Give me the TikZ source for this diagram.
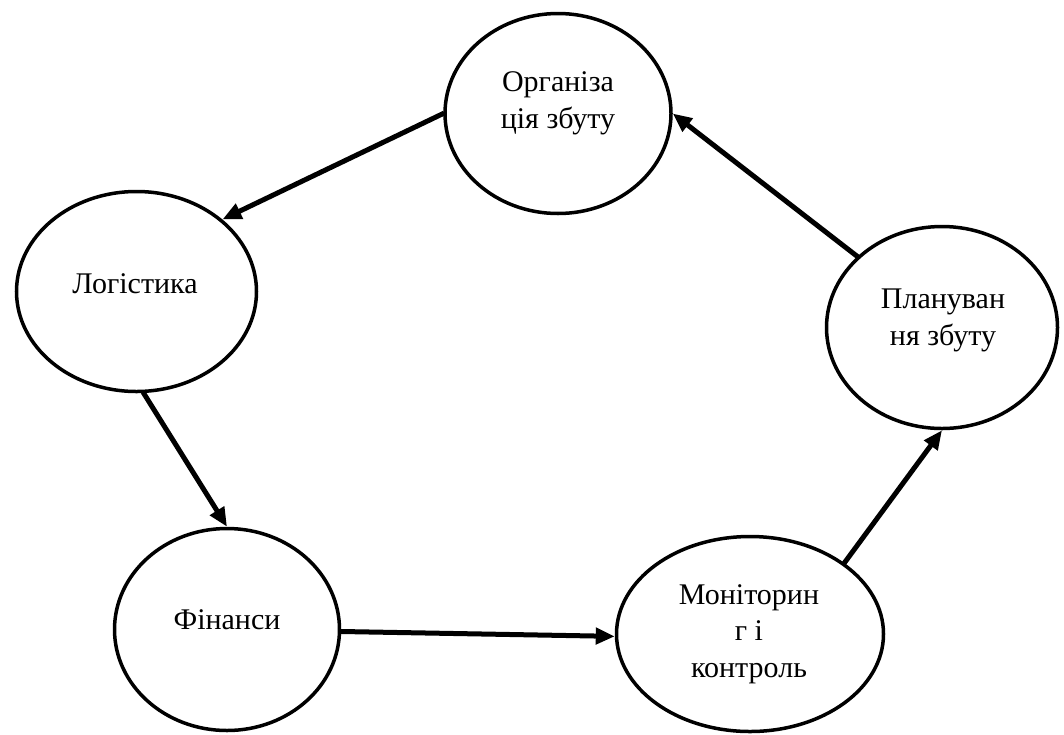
\documentclass[tikz,border=0pt]{standalone}
\usepackage{fontspec}
\setmainfont{Liberation Serif}
\usetikzlibrary{shapes.geometric,arrows.meta}

\tikzset{
  stage/.style={draw=black, line width=3.5pt, ellipse, inner sep=0pt, fill=white},
  caption/.style={font=\fontsize{30}{36.5}\selectfont, align=center, anchor=base, inner sep=0pt},
  flow/.style={line width=5pt, -{Triangle[length=19pt,width=16pt]}, shorten <=-1pt}
}

\begin{document}
\begin{tikzpicture}[x=1pt,y=-1pt]
  \useasboundingbox[fill=white] (0,0) rectangle (1064,734);

  % the five stages of the sales cycle
  \node[stage, minimum width=226pt, minimum height=200pt] (org) at (558,113.5) {};
  \node[stage, minimum width=240pt, minimum height=200pt] (log) at (136.5,291.5) {};
  \node[stage, minimum width=225pt, minimum height=202pt] (fin) at (227,629.5) {};
  \node[stage, minimum width=267pt, minimum height=195pt] (mon) at (750,634) {};
  \node[stage, minimum width=231pt, minimum height=202pt] (plan) at (942,327.5) {};

  % stage captions (the base anchor sits on the last line)
  \node[caption] (orgT) at (558,128) {Організа\\ція збуту};
  \node[caption] (logT) at (135,293) {Логістика};
  \node[caption] (finT) at (227,629) {Фінанси};
  \node[caption] (monT) at (749,677) {Моніторин\\г і\\контроль};
  \node[caption] (planT) at (943,345) {Плануван\\ня збуту};

  % flow between the stages
  \draw[flow] (org.180) -- (log.40);
  \draw[flow] (log.-86) -- (fin.90);
  \draw[flow] (fin.-1) -- (mon.181);
  \draw[flow] (mon.37) -- (plan.-90);
  \draw[flow] (plan.140) -- (org.0);
\end{tikzpicture}
\end{document}
